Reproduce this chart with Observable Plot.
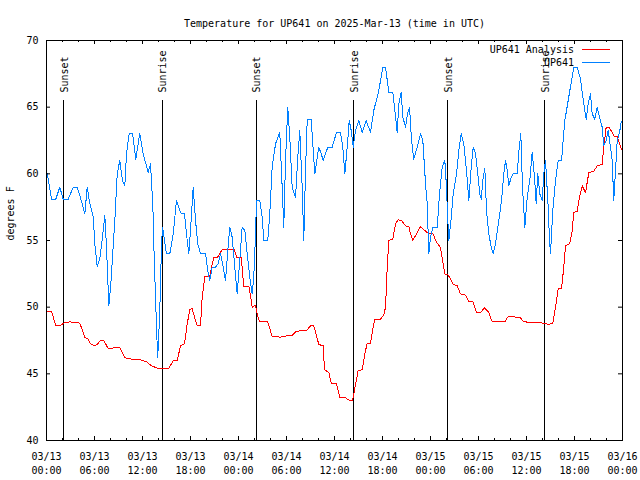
<!DOCTYPE html>
<html><head><meta charset="utf-8">
<script src="https://cdn.jsdelivr.net/npm/d3@7"></script>
<script src="https://cdn.jsdelivr.net/npm/@observablehq/plot@0.6"></script>
<style>
html,body{margin:0;padding:0;background:#fff}
#wrap{position:relative;width:640px;height:480px}
.key{position:absolute;font:10px "DejaVu Sans Mono",monospace;line-height:12px;white-space:pre;color:#000;text-align:right}
.swatch{position:absolute;height:1px}
</style></head><body><div id="wrap"></div>
<script>
const title = "Temperature for UP641 on 2025-Mar-13 (time in UTC)";
const yLabel = "degrees F";
const seriesNames = ["UP641 Analysis", "UP641"];
const seriesColors = ["#ff0000", "#0080ff"];
const startUTC = Date.UTC(2025, 2, 13);

// Hours since 2025-03-13 00:00 UTC
const analysisHours = [0.1,0.63,1.16,1.66,2.16,2.91,4.16,4.79,5.21,5.5,6.04,6.34,6.75,7.16,7.71,8.13,8.54,9.16,9.79,10.63,11.46,12.0,12.5,13.13,13.75,14.04,15.29,15.84,16.34,16.75,17.25,17.59,17.91,18.21,18.5,18.84,19.25,19.46,19.79,20.41,20.71,20.91,21.34,21.63,21.96,23.5,23.75,24.34,24.66,25.29,25.5,25.71,26.13,26.41,26.66,27.66,28.21,29.25,30.0,30.71,31.25,32.5,33.0,33.41,34.04,34.59,34.75,35.29,35.59,36.25,36.66,37.38,37.71,38.25,38.54,38.96,39.46,39.79,40.09,40.5,40.79,41.04,41.75,42.16,42.38,42.59,42.79,43.29,43.63,43.96,44.38,44.88,45.29,45.5,45.79,46.34,46.75,47.38,47.71,48.29,48.63,49.25,49.54,49.79,50.21,50.5,50.84,51.34,51.75,52.38,52.79,53.29,53.75,54.25,54.75,55.29,55.71,57.29,57.71,58.21,58.75,59.25,59.66,62.29,62.79,63.29,63.63,63.96,64.38,64.66,64.88,65.38,65.71,65.91,66.34,66.63,66.96,67.38,67.79,68.41,68.84,69.46,69.66,69.96,70.29,70.63,71.0,71.34,71.54,71.88];
const analysisTemps = [49.7,49.7,48.6,48.6,48.8,48.9,48.8,47.75,47.6,47.25,47.1,47.2,47.5,47.5,46.9,46.9,47.0,47.0,46.2,46.1,46.1,46.0,45.9,45.6,45.45,45.4,45.4,46.0,46.0,47.1,47.25,48.75,49.8,49.9,49.25,48.6,48.6,50.75,52.3,52.3,53.25,53.7,53.7,54.0,54.3,54.3,53.75,53.75,51.55,51.55,50.9,50.0,50.15,49.3,48.9,48.9,47.8,47.75,47.85,47.9,48.2,48.25,48.6,48.6,47.2,47.1,45.3,45.1,44.3,44.25,43.25,43.2,43.05,43.0,43.9,45.25,45.3,46.5,47.3,47.3,48.4,49.05,49.1,49.4,50.0,53.0,55.0,55.1,56.25,56.55,56.5,56.1,56.05,55.5,55.0,55.6,56.05,55.7,55.55,55.55,55.0,54.45,53.4,52.5,52.4,52.1,51.7,51.6,51.0,50.9,50.45,50.4,49.6,49.6,49.95,49.6,48.9,48.9,49.3,49.3,49.25,49.2,48.9,48.8,48.7,48.8,50.0,51.4,51.4,53.0,54.6,54.75,55.7,57.1,57.2,58.25,59.1,58.6,60.1,60.2,60.6,60.7,62.0,63.5,63.5,63.2,62.8,62.8,62.4,61.8];

const obsHours = [0.1,0.63,1.16,1.66,2.09,2.71,3.34,3.84,4.16,4.79,5.09,5.34,5.84,6.04,6.34,6.66,7.0,7.29,7.5,7.79,8.04,8.54,8.84,9.16,9.5,9.79,10.0,10.34,10.75,11.16,11.66,12.09,12.71,13.0,13.3,13.45,13.75,13.9,14.15,14.37,14.5,14.66,15.0,15.41,15.84,16.25,16.54,16.84,17.25,17.59,17.79,18.0,18.34,18.63,18.91,19.25,19.88,20.16,20.41,20.71,21.13,21.46,21.75,22.09,22.38,22.66,22.91,23.21,23.5,23.84,24.16,24.46,24.79,25.09,25.41,25.71,25.91,26.13,26.25,26.66,26.96,27.16,27.66,27.91,28.21,28.63,29.16,29.46,29.66,29.88,30.16,30.41,30.71,31.13,31.41,31.66,31.96,32.16,32.38,32.59,33.09,33.34,33.54,33.84,34.04,34.34,34.59,35.16,35.71,36.25,36.75,37.04,37.29,37.59,37.84,38.09,38.34,38.63,39.04,39.46,39.96,40.5,40.91,41.54,42.04,42.38,42.79,43.29,43.54,43.84,44.04,44.34,44.54,44.88,45.09,45.38,45.63,45.91,46.34,46.75,47.04,47.38,47.59,47.79,48.0,48.29,48.84,49.13,49.46,49.79,50.0,50.09,50.29,50.54,50.84,51.25,51.54,51.84,52.16,52.5,52.79,53.09,53.34,53.63,53.91,54.16,54.34,54.59,54.79,55.0,55.29,55.59,55.84,56.13,56.54,56.88,57.16,57.38,57.59,57.79,58.09,58.41,58.84,59.09,59.29,59.5,59.79,60.09,60.41,60.71,61.0,61.21,61.41,61.66,61.96,62.16,62.38,62.71,62.88,63.0,63.29,63.63,63.96,64.38,64.79,65.21,65.63,65.91,66.34,66.75,67.16,67.46,67.71,68.0,68.21,68.54,68.84,69.13,69.46,69.66,69.96,70.21,70.5,70.71,70.91,71.13,71.34,71.63,71.84,72.0];
const obsTemps = [60.0,58.1,58.1,59.0,58.1,58.1,59.0,59.0,58.4,57.0,59.0,58.0,56.75,54.75,53.05,53.6,55.25,56.9,54.5,50.1,51.75,56.5,60.0,61.0,59.5,59.1,61.5,63.05,63.05,61.1,63.05,61.5,60.1,60.75,57.5,54.0,48.5,46.2,49.5,54.5,56.0,55.4,54.0,54.0,55.5,58.0,57.45,57.0,57.0,55.0,54.0,55.75,59.0,56.5,54.75,54.0,54.0,52.75,52.0,53.0,53.0,53.25,54.0,53.0,52.0,54.25,56.0,55.25,53.25,51.0,53.5,56.0,55.75,54.0,52.25,51.0,52.25,55.5,58.0,58.0,56.75,55.0,55.0,57.0,60.5,62.25,63.1,59.0,56.0,61.0,65.0,62.75,59.0,58.25,61.25,63.25,59.0,55.0,60.25,64.05,64.05,61.75,60.0,61.25,62.0,61.5,61.0,62.0,62.0,63.1,63.1,62.0,60.0,62.0,64.0,63.25,62.0,63.25,64.0,63.1,64.0,63.1,64.75,66.25,68.0,68.0,66.1,66.1,64.75,63.1,65.25,66.1,64.25,63.5,64.4,65.0,62.5,61.1,62.0,63.0,62.5,59.25,57.75,54.0,55.25,56.0,56.0,58.5,60.5,61.0,59.0,57.5,55.0,56.4,58.5,60.0,61.75,63.0,62.25,60.25,58.0,60.5,62.0,61.5,60.0,58.5,58.1,59.75,60.4,57.25,55.5,54.5,54.0,54.75,56.5,58.0,60.0,61.0,60.25,59.1,59.75,60.05,60.05,62.0,63.0,59.0,56.0,58.25,59.5,61.6,59.75,57.75,60.0,58.5,58.0,60.0,61.0,57.5,55.0,54.0,57.25,59.5,61.0,61.0,64.0,65.5,67.0,68.0,68.0,67.1,65.25,64.1,65.25,66.0,64.5,64.1,65.0,64.25,63.5,62.1,62.5,63.25,62.0,61.0,58.0,60.25,62.5,63.1,63.9,64.0];

const sunLabels = ["Sunset", "Sunrise", "Sunset", "Sunrise", "Sunset", "Sunrise"];
const sunHours = [2.17, 14.46, 26.2, 38.4, 50.17, 62.3];

const xTickLabels = ["03/13\n00:00","03/13\n06:00","03/13\n12:00","03/13\n18:00","03/14\n00:00","03/14\n06:00","03/14\n12:00","03/14\n18:00","03/15\n00:00","03/15\n06:00","03/15\n12:00","03/15\n18:00","03/16\n00:00"];
const yTicks = [40, 45, 50, 55, 60, 65, 70];

const toDate = h => new Date(startUTC + h * 3600e3);
const analysis = analysisHours.map((h, i) => ({t: toDate(h), v: analysisTemps[i]}));
const obs = obsHours.map((h, i) => ({t: toDate(h), v: obsTemps[i]}));
const sun = sunHours.map((h, i) => ({t: toDate(h), label: sunLabels[i]}));
const majorDates = xTickLabels.map((_, i) => toDate(i * 6));
const minorDates = d3.range(0, 73, 2).filter(h => h % 6 !== 0).map(toDate);
const labelFor = d => xTickLabels[majorDates.findIndex(m => +m === +d)];

const chart = Plot.plot({
  width: 640, height: 480,
  marginLeft: 46, marginRight: 18, marginTop: 40, marginBottom: 40,
  style: {fontFamily: '"DejaVu Sans Mono", monospace', fontSize: "10px", background: "white", color: "black"},
  x: {type: "utc", domain: [toDate(0), toDate(72)]},
  y: {domain: [40, 70]},
  marks: [
    Plot.ruleX(sun, {x: "t", insetTop: 60, stroke: "black", shapeRendering: "crispEdges"}),
    Plot.text(sun, {x: "t", text: "label", frameAnchor: "top", rotate: -90, textAnchor: "start", dy: 52, dx: -3, fill: "black"}),
    Plot.line(analysis, {x: "t", y: "v", stroke: seriesColors[0], strokeWidth: 1, shapeRendering: "crispEdges"}),
    Plot.line(obs, {x: "t", y: "v", stroke: seriesColors[1], strokeWidth: 1, shapeRendering: "crispEdges"}),
    Plot.tickX(minorDates, {x: d => d, insetTop: 398, stroke: "black"}),
    Plot.tickX(majorDates, {x: d => d, insetTop: 396, stroke: "black"}),
    Plot.tickX(minorDates, {x: d => d, insetBottom: 398, stroke: "black"}),
    Plot.tickX(majorDates, {x: d => d, insetBottom: 396, stroke: "black"}),
    Plot.tickY(yTicks, {y: d => d, insetRight: 572, stroke: "black"}),
    Plot.tickY(yTicks, {y: d => d, insetLeft: 572, stroke: "black"}),
    Plot.frame({stroke: "black", shapeRendering: "crispEdges"}),
    Plot.axisX(majorDates, {tickSize: 0, tickPadding: 10, tickFormat: labelFor, label: null, lineHeight: 1.4}),
    Plot.axisY(yTicks, {tickSize: 0, tickPadding: 8, label: null}),
    Plot.text([title], {frameAnchor: "top", dy: -21, text: d => d, fill: "black"}),
    Plot.text([yLabel], {frameAnchor: "left", dx: -36, rotate: -90, text: d => d, fill: "black"})
  ]
});
const wrap = document.getElementById("wrap");
wrap.appendChild(chart);

// legend (top right, inside the frame)
seriesNames.forEach((name, i) => {
  const lab = document.createElement("div");
  lab.className = "key";
  lab.textContent = name;
  lab.style.right = "66px";
  lab.style.top = (44 + i * 12.7) + "px";
  wrap.appendChild(lab);
  const sw = document.createElement("div");
  sw.className = "swatch";
  sw.style.left = "582px";
  sw.style.width = "28px";
  sw.style.top = (49 + i * 13) + "px";
  sw.style.background = seriesColors[i];
  wrap.appendChild(sw);
});
</script></body></html>
